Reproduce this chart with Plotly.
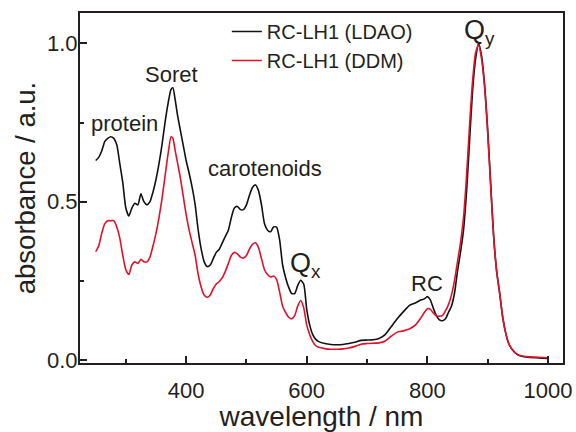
import plotly.graph_objects as go

wavelength = [250, 255, 260, 265, 270, 275, 280, 285, 290, 295, 300, 305, 310, 315, 320, 325, 330, 335, 340, 345,
              350, 355, 360, 365, 370, 375, 378, 382, 386, 390, 395, 400, 405, 410, 415, 420, 425, 430, 435, 440,
              445, 450, 455, 460, 465, 470, 475, 480, 485, 490, 495, 500, 505, 510, 515, 520, 525, 530, 535, 540,
              545, 550, 555, 560, 565, 570, 575, 580, 585, 590, 595, 600, 605, 610, 615, 620, 630, 640, 650, 660,
              670, 680, 690, 700, 710, 720, 730, 740, 750, 760, 770, 780, 790, 795, 800, 805, 810, 815, 820, 825,
              830, 835, 840, 845, 850, 855, 860, 865, 870, 875, 880, 885, 890, 895, 900, 905, 910, 915, 920, 925,
              930, 935, 940, 950, 960, 970, 980, 990, 1000]

abs_ldao = [0.63, 0.64, 0.66, 0.69, 0.70, 0.705, 0.70, 0.68, 0.62, 0.56, 0.48, 0.455, 0.48, 0.495, 0.49, 0.525, 0.50, 0.49, 0.50, 0.53,
            0.57, 0.62, 0.68, 0.75, 0.81, 0.855, 0.86, 0.82, 0.77, 0.73, 0.68, 0.63, 0.59, 0.545, 0.49, 0.41, 0.35, 0.31, 0.295, 0.30,
            0.32, 0.34, 0.35, 0.37, 0.39, 0.41, 0.45, 0.48, 0.485, 0.475, 0.475, 0.49, 0.52, 0.545, 0.553, 0.535, 0.49, 0.43, 0.41, 0.405,
            0.42, 0.42, 0.38, 0.30, 0.26, 0.23, 0.21, 0.21, 0.235, 0.252, 0.24, 0.16, 0.11, 0.08, 0.065, 0.058, 0.052, 0.049, 0.048, 0.049,
            0.052, 0.056, 0.062, 0.063, 0.064, 0.068, 0.08, 0.105, 0.13, 0.152, 0.172, 0.18, 0.19, 0.193, 0.20, 0.19, 0.163, 0.14, 0.127, 0.124,
            0.13, 0.15, 0.17, 0.21, 0.28, 0.34, 0.41, 0.53, 0.69, 0.85, 0.95, 1.0, 0.96, 0.87, 0.73, 0.56, 0.39, 0.28, 0.21, 0.135,
            0.085, 0.052, 0.035, 0.016, 0.01, 0.008, 0.007, 0.006, 0.005]

abs_ddm = [0.342, 0.36, 0.40, 0.43, 0.44, 0.44, 0.44, 0.42, 0.385, 0.33, 0.285, 0.27, 0.30, 0.31, 0.305, 0.318, 0.31, 0.31, 0.325, 0.36,
           0.40, 0.45, 0.51, 0.58, 0.65, 0.705, 0.70, 0.66, 0.62, 0.58, 0.52, 0.46, 0.41, 0.37, 0.33, 0.27, 0.23, 0.205, 0.198, 0.205,
           0.225, 0.24, 0.248, 0.26, 0.28, 0.305, 0.33, 0.34, 0.335, 0.325, 0.322, 0.33, 0.35, 0.365, 0.37, 0.355, 0.32, 0.285, 0.27, 0.262,
           0.265, 0.255, 0.215, 0.17, 0.15, 0.135, 0.13, 0.14, 0.17, 0.188, 0.165, 0.11, 0.08, 0.058, 0.045, 0.04, 0.036, 0.034, 0.034, 0.035,
           0.038, 0.043, 0.05, 0.052, 0.053, 0.054, 0.06, 0.075, 0.088, 0.092, 0.098, 0.11, 0.135, 0.15, 0.162, 0.16, 0.148, 0.14, 0.138, 0.14,
           0.155, 0.175, 0.205, 0.25, 0.31, 0.37, 0.45, 0.58, 0.74, 0.88, 0.97, 0.995, 0.95, 0.86, 0.72, 0.55, 0.39, 0.28, 0.21, 0.135,
           0.085, 0.052, 0.035, 0.017, 0.012, 0.01, 0.009, 0.008, 0.007]

series_names = ["RC-LH1 (LDAO)", "RC-LH1 (DDM)"]
x_ticks = [400, 600, 800, 1000]
y_ticks = [0.0, 0.5, 1.0]
labels = ["protein", "Soret", "carotenoids", "Q<sub>x</sub>", "RC", "Q<sub>y</sub>"]
label_x = [297, 376.5, 530.6, 569.5, 799, 858]
label_y = [0.748, 0.903, 0.606, 0.30, 0.243, 1.036]

FONT = "Liberation Sans, Arial, sans-serif"
TXT = "#231f20"

fig = go.Figure()
fig.add_trace(go.Scatter(x=wavelength, y=abs_ldao, mode="lines", name=series_names[0],
                         line=dict(color="#111111", width=1.6, shape="spline", smoothing=0.6)))
fig.add_trace(go.Scatter(x=wavelength, y=abs_ddm, mode="lines", name=series_names[1],
                         line=dict(color="#e3102a", width=1.6, shape="spline", smoothing=0.6)))

for i, t in enumerate(labels):
    big = t.startswith("Q")
    fig.add_annotation(x=label_x[i], y=label_y[i], text=t, showarrow=False,
                       xanchor="left" if big else "center", yanchor="middle",
                       font=dict(family=FONT, size=27 if big else 22, color=TXT))

fig.update_layout(
    width=576, height=432,
    margin=dict(l=80, r=13, t=13, b=69),
    paper_bgcolor="white", plot_bgcolor="white",
    font=dict(family=FONT, color=TXT),
    showlegend=True,
    legend=dict(x=0.304, y=1.003, xanchor="left", yanchor="top", bgcolor="rgba(0,0,0,0)",
                font=dict(family=FONT, size=20, color=TXT), tracegroupgap=0, itemwidth=30),
    xaxis=dict(range=[224, 1025], tickvals=x_ticks, ticktext=[str(v) for v in x_ticks],
               ticks="inside", ticklen=7, tickwidth=2, tickcolor="#231f20", ticklabelstandoff=7,
               minor=dict(tickvals=[300, 500, 700, 900], ticks="inside", ticklen=4, tickwidth=2, tickcolor="#231f20"),
               showline=True, linewidth=2, linecolor="#231f20", mirror=True, showgrid=False, zeroline=False,
               tickfont=dict(family=FONT, size=22, color=TXT), automargin=False,
               title=dict(text="wavelength / nm", font=dict(family=FONT, size=28, color=TXT), standoff=10)),
    yaxis=dict(range=[-0.0095, 1.096], tickvals=y_ticks, ticktext=["0.0", "0.5", "1.0"],
               ticks="inside", ticklen=7, tickwidth=2, tickcolor="#231f20", ticklabelstandoff=-4,
               minor=dict(tickvals=[0.25, 0.75], ticks="inside", ticklen=4, tickwidth=2, tickcolor="#231f20"),
               showline=True, linewidth=2, linecolor="#231f20", mirror=True, showgrid=False, zeroline=False,
               tickfont=dict(family=FONT, size=22, color=TXT), automargin=False,
               title=dict(text="absorbance / a.u.", font=dict(family=FONT, size=27.5, color=TXT), standoff=3)),
)

fig.write_html("out.html")
